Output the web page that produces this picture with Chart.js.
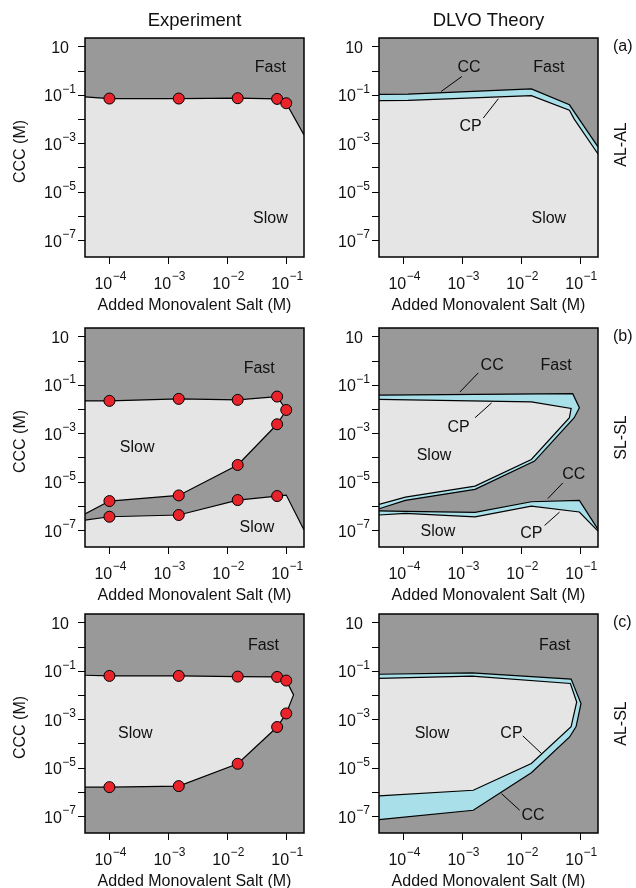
<!DOCTYPE html>
<html>
<head>
<meta charset="utf-8">
<script src="https://cdn.jsdelivr.net/npm/chart.js@4.4.0/dist/chart.umd.min.js"></script>
<style>
  body { margin: 0; background: #fff; width: 636px; height: 888px; position: relative; overflow: hidden; }
  canvas { position: absolute; }
</style>
</head>
<body>
<canvas id="aExp" width="318" height="315" style="left:0;top:0"></canvas>
<canvas id="aDlvo" width="318" height="315" style="left:318px;top:0"></canvas>
<canvas id="bExp" width="318" height="290" style="left:0;top:315px"></canvas>
<canvas id="bDlvo" width="318" height="290" style="left:318px;top:315px"></canvas>
<canvas id="cExp" width="318" height="283" style="left:0;top:605px"></canvas>
<canvas id="cDlvo" width="318" height="283" style="left:318px;top:605px"></canvas>
<script>
// Axis ranges (M), both axes logarithmic
const X_MIN = 3.85e-5, X_MAX = 0.2;
const Y_MIN = 2e-8, Y_MAX = 22.4;
const xTickVals = [1e-4, 1e-3, 1e-2, 1e-1];
const xLabelExps = [-4, -3, -2, -1];
const yTickExps = [1, 0, -1, -2, -3, -4, -5, -6, -7];
const yLabelExps = [1, -1, -3, -5, -7];

// ---- (a) AL-AL ----
// experiment: boundary line, ends on the plot edges; measured = red dot
const aExpSalt = [X_MIN, 1e-4, 1.5e-3, 1.5e-2, 7e-2, 1e-1, X_MAX];
const aExpCcc = [0.0826, 0.0705, 0.0705, 0.0728, 0.0682, 0.0452, 2.2e-3];
const aExpMeasured = [0, 1, 1, 1, 1, 1, 0];
// DLVO: CC and CP curves
const aCcSalt = [X_MIN, 1.2e-4, 1.48e-2, 6.55e-2, X_MAX];
const aCcCcc = [0.105, 0.107, 0.176, 0.0389, 7.1e-4];
const aCpSalt = [X_MIN, 1.2e-4, 1.48e-2, 6.55e-2, 7.9e-2, X_MAX];
const aCpCcc = [0.0582, 0.0589, 0.0933, 0.0234, 0.01, 3.6e-4];

// ---- (b) SL-SL ----
const bExpUpSalt = [X_MIN, 1e-4, 1.5e-3, 1.5e-2, 7e-2, 1e-1, 7e-2, 1.5e-2, 1.5e-3, 1e-4, X_MIN];
const bExpUpCcc = [0.0218, 0.0218, 0.0264, 0.024, 0.0329, 9.2e-3, 2.36e-3, 4.9e-5, 2.7e-6, 1.58e-6, 4.6e-7];
const bExpUpMeasured = [0, 1, 1, 1, 1, 1, 1, 1, 1, 1, 0];
const bExpLowSalt = [X_MIN, 1e-4, 1.5e-3, 1.5e-2, 7e-2, 1e-1, X_MAX];
const bExpLowCcc = [2.6e-7, 3.56e-7, 4.2e-7, 1.74e-6, 2.55e-6, 2.8e-6, 1e-7];
const bExpLowMeasured = [0, 1, 1, 1, 1, 0, 0];
const bCcUpSalt = [X_MIN, 7.45e-2, 9.66e-2, 7.9e-2, 1.68e-2, 1.64e-3, 1.08e-4, X_MIN];
const bCcUpCcc = [0.038, 0.0432, 0.01135, 4.4e-3, 7.1e-5, 4.8e-6, 1.7e-6, 7.6e-7];
const bCpUpSalt = [X_MIN, 1.48e-2, 7.0e-2, 6.55e-2, 1.48e-2, 1.64e-3, 1.08e-4, X_MIN];
const bCpUpCcc = [0.0251, 0.02, 0.0107, 4.4e-3, 8.3e-5, 6.6e-6, 2.3e-6, 1.15e-6];
const bLowSalt = [X_MIN, 1.08e-4, 1.64e-3, 1.48e-2, 9.66e-2, X_MAX];
const bCcLowCcc = [6.2e-7, 5.9e-7, 5.4e-7, 1.48e-6, 1.7e-6, 1.07e-7];
const bCpLowCcc = [4.2e-7, 4.9e-7, 3.5e-7, 9.8e-7, 5.6e-7, 9.1e-8];

// ---- (c) AL-SL ----
const cExpSalt = [X_MIN, 1e-4, 1.5e-3, 1.5e-2, 7e-2, 1e-1, 0.133, 1e-1, 7e-2, 1.5e-2, 1.5e-3, 1e-4, X_MIN];
const cExpCcc = [0.0659, 0.0619, 0.0619, 0.058, 0.0562, 0.0398, 0.0102, 1.74e-3, 4.8e-4, 1.45e-5, 1.73e-6, 1.57e-6, 1.57e-6];
const cExpMeasured = [0, 1, 1, 1, 1, 1, 0, 1, 1, 1, 1, 1, 0];
const cCcSalt = [X_MIN, 1.45e-3, 7.0e-2, 0.103, 8.5e-2, 6.6e-2, 1.48e-2, 1.53e-3, X_MIN];
const cCcCcc = [0.0724, 0.0832, 0.0457, 4.5e-3, 5e-4, 1.86e-4, 6.2e-6, 1.74e-7, 7.2e-8];
const cCpSalt = [X_MIN, 1.45e-3, 6.8e-2, 8.7e-2, 7.0e-2, 1.48e-2, 1.53e-3, X_MIN];
const cCpCcc = [0.049, 0.0603, 0.0302, 5.2e-3, 5e-4, 1.48e-5, 1.17e-6, 6.8e-7];

// region labels [text, salt, ccc] and leader lines [x1, y1, x2, y2]
const aExpNotes = [['Fast', 0.0537, 1.6], ['Slow', 0.0537, 9e-7]];
const aDlvoNotes = [['CC', 1.3e-3, 1.5], ['Fast', 0.0293, 1.6], ['CP', 1.38e-3, 5.75e-3], ['Slow', 0.0293, 9e-7]];
const aDlvoLeaders = [[9.8e-4, 0.575, 4.36e-4, 0.138], [2.26e-3, 0.011, 4.07e-3, 0.069]];
const bExpNotes = [['Fast', 0.0348, 0.545], ['Slow', 2.95e-4, 2.85e-4], ['Slow', 0.0318, 1.4e-7]];
const bDlvoNotes = [['CC', 3.2e-3, 0.7], ['Fast', 0.039, 0.74], ['CP', 8.6e-4, 1.95e-3], ['Slow', 3.3e-4, 1.4e-4],
  ['CC', 0.0776, 2.3e-5], ['Slow', 3.85e-4, 9.5e-8], ['CP', 0.0148, 8.3e-8]];
const bDlvoLeaders = [[1.86e-3, 0.313, 9.1e-4, 0.051], [1.64e-3, 4.4e-3, 3.13e-3, 0.018],
  [0.0505, 8.9e-6, 0.0282, 2.0e-6], [0.0248, 1.55e-7, 0.0445, 5.5e-7]];
const cExpNotes = [['Fast', 0.041, 1.27], ['Slow', 2.75e-4, 2.85e-4]];
const cDlvoNotes = [['Fast', 0.0366, 1.27], ['Slow', 3.05e-4, 2.85e-4], ['CP', 6.8e-3, 2.85e-4], ['CC', 0.0158, 1.2e-7]];
const cDlvoLeaders = [[0.0106, 2.06e-4, 0.0219, 3.9e-5], [4.6e-3, 8.5e-7, 9.4e-3, 1.74e-7]];

const DARK = '#999999', LIGHT = '#e5e5e5', CYAN = '#a9dfe8', RED = '#e8232a';
const FAM = '"Liberation Sans", Arial, sans-serif';
const F16 = '16px ' + FAM, F12 = '12px ' + FAM, FTITLE = '18.5px ' + FAM;

function pts(xs, ys) { return xs.map((x, i) => ({ x, y: ys[i] })); }
function downToFloor(p) { return p.concat([{ x: X_MAX, y: Y_MIN }, { x: X_MIN, y: Y_MIN }]); }
function measured(xs, ys, mask) { return pts(xs, ys).filter((p, i) => mask[i]); }

function fillSet(data, color) {
  return { data, polyFill: color, showLine: false, pointRadius: 0, order: 3 };
}
function lineSet(data, w) {
  return { data, showLine: true, borderColor: '#000', borderWidth: w || 1.2, pointRadius: 0, order: 2 };
}
function dotSet(data) {
  return { data, showLine: false, pointRadius: 5.5, pointBackgroundColor: RED,
    pointBorderColor: '#000', pointBorderWidth: 1, order: 1 };
}
function leaderSets(list) {
  return list.map(l => lineSet([{ x: l[0], y: l[1] }, { x: l[2], y: l[3] }], 1));
}

// "10" with a superscript exponent
function drawPow(ctx, e, x, y, align) {
  const sup = e === 1 ? '' : (e < 0 ? '\u2212' + (-e) : String(e));
  ctx.font = F16;
  const wb = ctx.measureText('10').width;
  ctx.font = F12;
  const ws = sup ? ctx.measureText(sup).width + 0.5 : 0;
  const left = align === 'center' ? x - (wb + ws) / 2 : x - wb - ws;
  ctx.textAlign = 'left';
  ctx.textBaseline = 'alphabetic';
  ctx.font = F16;
  ctx.fillText('10', left, y);
  if (sup) {
    ctx.font = F12;
    ctx.fillText(sup, left + wb + 0.5, y - 8.5);
  }
}

function decor(cfg) {
  return {
    id: 'decor',
    beforeDatasetsDraw(chart) {
      const { ctx, chartArea: a } = chart;
      ctx.save();
      ctx.fillStyle = DARK;
      ctx.fillRect(a.left, a.top, a.width, a.height);
      ctx.beginPath();
      ctx.rect(a.left, a.top, a.width, a.height);
      ctx.clip();
      chart.data.datasets.forEach((ds, i) => {
        if (!ds.polyFill) return;
        const el = chart.getDatasetMeta(i).data;
        ctx.beginPath();
        el.forEach((p, j) => (j ? ctx.lineTo(p.x, p.y) : ctx.moveTo(p.x, p.y)));
        ctx.closePath();
        ctx.fillStyle = ds.polyFill;
        ctx.fill();
      });
      ctx.restore();
    },
    afterDatasetsDraw(chart) {
      const { ctx, chartArea: a } = chart;
      const sx = chart.scales.x, sy = chart.scales.y;
      ctx.save();
      ctx.strokeStyle = '#000';
      ctx.lineWidth = 1.5;
      ctx.strokeRect(a.left, a.top, a.width, a.height);

      // tick marks
      ctx.lineWidth = 1;
      ctx.beginPath();
      yTickExps.forEach(e => {
        const py = Math.round(sy.getPixelForValue(Math.pow(10, e))) + 0.5;
        ctx.moveTo(a.left - 7, py);
        ctx.lineTo(a.left, py);
      });
      xTickVals.forEach(v => {
        const px = Math.round(sx.getPixelForValue(v)) + 0.5;
        ctx.moveTo(px, a.bottom);
        ctx.lineTo(px, a.bottom + 7);
      });
      ctx.stroke();

      // tick labels
      ctx.fillStyle = '#111';
      yLabelExps.forEach(e => {
        const py = sy.getPixelForValue(Math.pow(10, e));
        drawPow(ctx, e, e === 1 ? a.left - 16 : a.left - 9, py + 6.5, 'right');
      });
      xLabelExps.forEach(e => {
        drawPow(ctx, e, sx.getPixelForValue(Math.pow(10, e)) + 1, a.bottom + 31.5, 'center');
      });

      const cx = (a.left + a.right) / 2, cy = (a.top + a.bottom) / 2;
      ctx.font = F16;
      ctx.textAlign = 'center';
      ctx.textBaseline = 'alphabetic';
      ctx.fillText('Added Monovalent Salt (M)', cx, a.bottom + 53);

      if (cfg.yTitle) {
        ctx.save();
        ctx.translate(a.left - 60, cy + 4);
        ctx.rotate(-Math.PI / 2);
        ctx.fillText(cfg.yTitle, 0, 0);
        ctx.restore();
      }
      if (cfg.title) {
        ctx.font = FTITLE;
        ctx.fillText(cfg.title, cx, a.top - 12);
        ctx.font = F16;
      }
      if (cfg.tag) {
        ctx.textAlign = 'left';
        ctx.fillText(cfg.tag, a.right + 15, a.top + 13);
        ctx.textAlign = 'center';
      }
      if (cfg.name) {
        ctx.save();
        ctx.translate(a.right + 27.5, cy - (cfg.nameShift || 0));
        ctx.rotate(-Math.PI / 2);
        ctx.fillText(cfg.name, 0, 0);
        ctx.restore();
      }

      // region labels
      cfg.notes.forEach(n => {
        ctx.fillText(n[0], sx.getPixelForValue(n[1]), sy.getPixelForValue(n[2]) + 5.8);
      });
      ctx.restore();
    }
  };
}

const LEFT_PAD = { left: 85, right: 14 };
const RIGHT_PAD = { left: 61, right: 38 };
const ROW_PAD = { a: { top: 38, bottom: 58 }, b: { top: 13, bottom: 58 }, c: { top: 9, bottom: 55 } };

function makePanel(id, side, row, datasets, cfg) {
  const pad = Object.assign({}, side, ROW_PAD[row]);
  return new Chart(document.getElementById(id).getContext('2d'), {
    type: 'scatter',
    data: { datasets },
    options: {
      responsive: false,
      animation: false,
      events: [],
      layout: { padding: pad, autoPadding: false },
      plugins: { legend: { display: false }, tooltip: { enabled: false } },
      scales: {
        x: { type: 'logarithmic', min: X_MIN, max: X_MAX, bounds: 'data', display: false },
        y: { type: 'logarithmic', min: Y_MIN, max: Y_MAX, bounds: 'data', display: false }
      }
    },
    plugins: [decor(cfg)]
  });
}

// (a)
makePanel('aExp', LEFT_PAD, 'a', [
  fillSet(downToFloor(pts(aExpSalt, aExpCcc)), LIGHT),
  lineSet(pts(aExpSalt, aExpCcc)),
  dotSet(measured(aExpSalt, aExpCcc, aExpMeasured))
], { title: 'Experiment', yTitle: 'CCC (M)', notes: aExpNotes });

makePanel('aDlvo', RIGHT_PAD, 'a', [
  fillSet(downToFloor(pts(aCcSalt, aCcCcc)), CYAN),
  fillSet(downToFloor(pts(aCpSalt, aCpCcc)), LIGHT),
  lineSet(pts(aCcSalt, aCcCcc)),
  lineSet(pts(aCpSalt, aCpCcc))
].concat(leaderSets(aDlvoLeaders)),
  { title: 'DLVO Theory', tag: '(a)', name: 'AL-AL', nameShift: 3, notes: aDlvoNotes });

// (b)
makePanel('bExp', LEFT_PAD, 'b', [
  fillSet(pts(bExpUpSalt, bExpUpCcc), LIGHT),
  fillSet(downToFloor(pts(bExpLowSalt, bExpLowCcc)), LIGHT),
  lineSet(pts(bExpUpSalt, bExpUpCcc)),
  lineSet(pts(bExpLowSalt, bExpLowCcc)),
  dotSet(measured(bExpUpSalt, bExpUpCcc, bExpUpMeasured)),
  dotSet(measured(bExpLowSalt, bExpLowCcc, bExpLowMeasured))
], { yTitle: 'CCC (M)', notes: bExpNotes });

makePanel('bDlvo', RIGHT_PAD, 'b', [
  fillSet(pts(bCcUpSalt, bCcUpCcc), CYAN),
  fillSet(pts(bCpUpSalt, bCpUpCcc), LIGHT),
  fillSet(downToFloor(pts(bLowSalt, bCcLowCcc)), CYAN),
  fillSet(downToFloor(pts(bLowSalt, bCpLowCcc)), LIGHT),
  lineSet(pts(bCcUpSalt, bCcUpCcc)),
  lineSet(pts(bCpUpSalt, bCpUpCcc)),
  lineSet(pts(bLowSalt, bCcLowCcc)),
  lineSet(pts(bLowSalt, bCpLowCcc))
].concat(leaderSets(bDlvoLeaders)),
  { tag: '(b)', name: 'SL-SL', notes: bDlvoNotes });

// (c)
makePanel('cExp', LEFT_PAD, 'c', [
  fillSet(pts(cExpSalt, cExpCcc), LIGHT),
  lineSet(pts(cExpSalt, cExpCcc)),
  dotSet(measured(cExpSalt, cExpCcc, cExpMeasured))
], { yTitle: 'CCC (M)', notes: cExpNotes });

makePanel('cDlvo', RIGHT_PAD, 'c', [
  fillSet(pts(cCcSalt, cCcCcc), CYAN),
  fillSet(pts(cCpSalt, cCpCcc), LIGHT),
  lineSet(pts(cCcSalt, cCcCcc)),
  lineSet(pts(cCpSalt, cCpCcc))
].concat(leaderSets(cDlvoLeaders)),
  { tag: '(c)', name: 'AL-SL', notes: cDlvoNotes });
</script>
</body>
</html>
